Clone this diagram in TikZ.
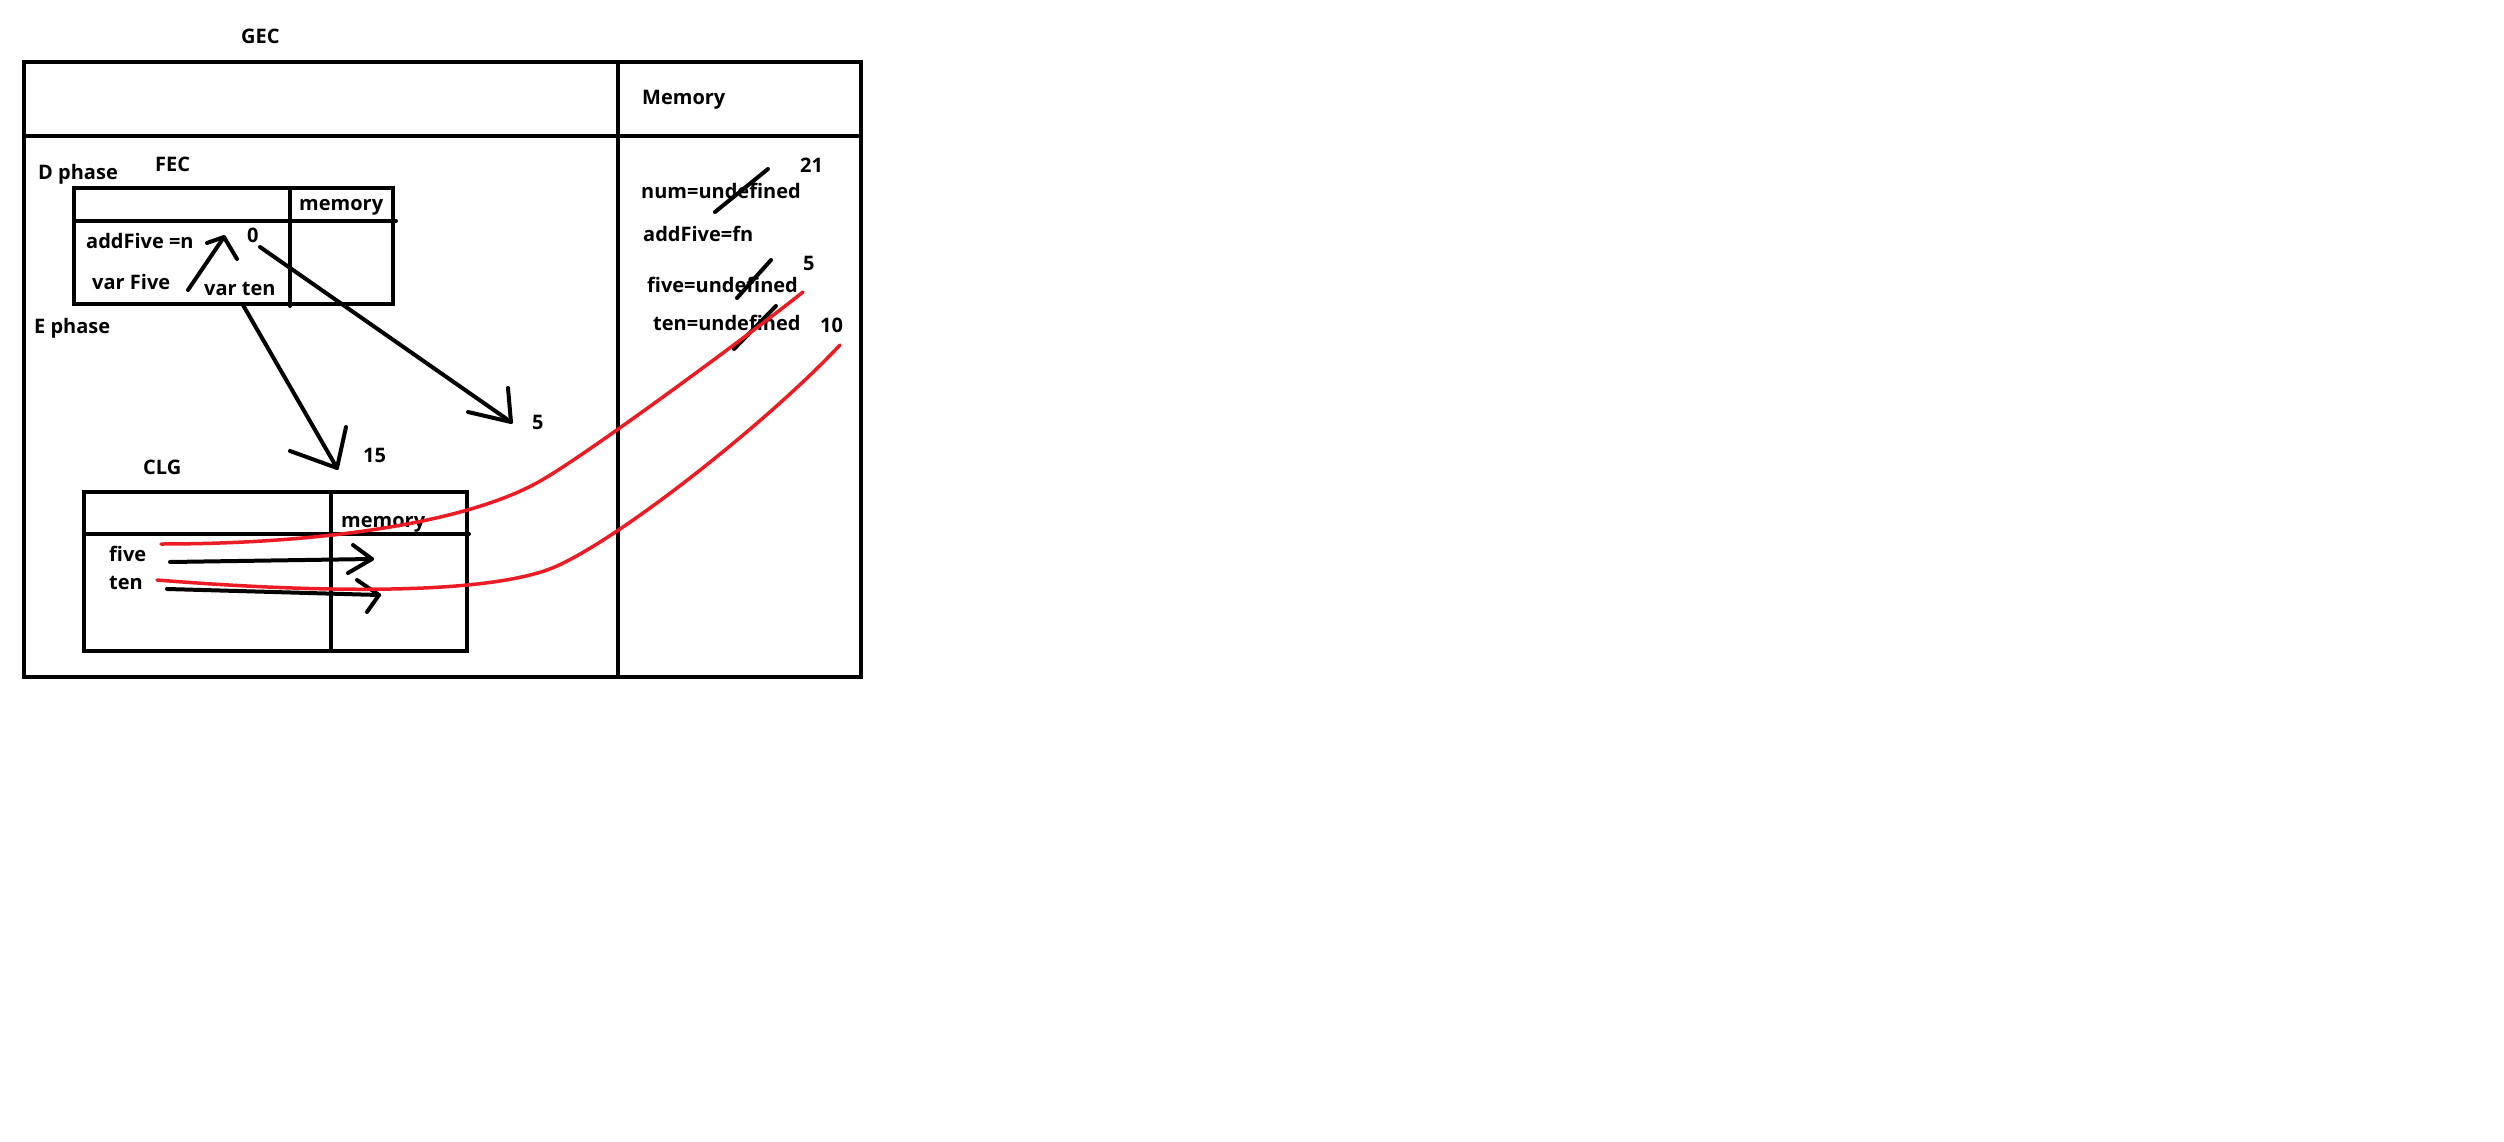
\documentclass[tikz,border=0pt]{standalone}
\usepackage{fontspec}
\setmainfont{Open Sans}
\begin{document}
\begin{tikzpicture}[x=1pt,y=-1pt,
  lbl/.style={anchor=base west,inner sep=0pt,font=\fontsize{20}{24}\selectfont\bfseries},
  frame/.style={line width=4pt,line cap=round},
  pen/.style={line width=4pt,line cap=round,line join=round},
  redpen/.style={line width=3.5pt,line cap=round,draw={rgb,255:red,237;green,28;blue,36}}]
\useasboundingbox[fill=white] (0,0) rectangle (2504,1142);
% GEC outer frame
\draw[frame] (24,62) rectangle (861,677);
\draw[frame] (24,136) -- (861,136);
\draw[frame] (618,62) -- (618,677);
% FEC box
\draw[frame] (74,188) rectangle (393,304);
\draw[frame] (74,221) -- (396,221);
\draw[frame] (290,188) -- (290,306);
% CLG box
\draw[frame] (84,492) rectangle (467,651);
\draw[frame] (84,534) -- (469,534);
\draw[frame] (331,492) -- (331,651);
% labels
\node[lbl] (gec) at (241,44) {GEC};
\node[lbl] (dphase) at (38,180) {D phase};
\node[lbl] (fec) at (155,172) {FEC};
\node[lbl] (fecmem) at (299,211) {memory};
\node[lbl] (addfive) at (86,248) {addFive =n};
\node[lbl] (zero) at (247,243) {0};
\node[lbl] (varfive) at (92,289) {var Five};
\node[lbl] (varten) at (204,295) {var ten};
\node[lbl] (ephase) at (34,333) {E phase};
\node[lbl] (fifteen) at (363,462) {15};
\node[lbl] (clg) at (143,474) {CLG};
\node[lbl] (clgmem) at (341,527) {memory};
\node[lbl] (five) at (109,561) {five};
\node[lbl] (ten) at (109,589) {ten};
\node[lbl] (fiveA) at (532,429) {5};
\node[lbl] (memory) at (642,105) {Memory};
\node[lbl] (twentyone) at (800,173) {21};
\node[lbl] (num) at (641,199) {num=undefined};
\node[lbl] (addfn) at (643,242) {addFive=fn};
\node[lbl] (fiveB) at (803,271) {5};
\node[lbl] (fiveund) at (647,292) {five=undefined};
\node[lbl] (tenund) at (653,330) {ten=undefined};
\node[lbl] (tenB) at (820,332) {10};
% connector end points
\coordinate (a1s) at (188,290); \coordinate (a1t) at (224,237);
\coordinate (a2s) at (243,305); \coordinate (a2t) at (337,468);
\coordinate (a3s) at (260,247); \coordinate (a3t) at (511,422);
\coordinate (a4s) at (170,562); \coordinate (a4t) at (372,559);
\coordinate (a5s) at (167,589); \coordinate (a5t) at (379,595);
\coordinate (r1s) at (161,544); \coordinate (r1m) at (547,477); \coordinate (r1t) at (803,292);
\coordinate (r2s) at (157,580); \coordinate (r2m) at (547,570); \coordinate (r2t) at (840,345);
% black arrows with hand-drawn barbs
\draw[pen] (a1s) -- (a1t);
\draw[pen] (207,243) -- (a1t) -- (237,259);
\draw[pen] (a2s) -- (a2t);
\draw[pen] (290,451) -- (a2t) -- (346,427);
\draw[pen] (a3s) -- (a3t);
\draw[pen] (468,412) -- (a3t) -- (508,388);
\draw[pen] (a4s) -- (a4t);
\draw[pen] (353,545) -- (a4t) -- (348,573);
\draw[pen] (a5s) -- (a5t);
\draw[pen] (357,580) -- (a5t) -- (367,612);
% strike-through marks
\draw[pen] (715,212) -- (768,169);
\draw[pen] (737,298) -- (771,260);
\draw[pen] (734,349) -- (776,306);
% red curves
\draw[redpen] (r1s) .. controls (310,544) and (470,525) .. (r1m)
  .. controls (597,447) and (753,332) .. (r1t);
\draw[redpen] (r2s) .. controls (280,590) and (467,598) .. (r2m)
  .. controls (607,549) and (765,425) .. (r2t);
\end{tikzpicture}
\end{document}
